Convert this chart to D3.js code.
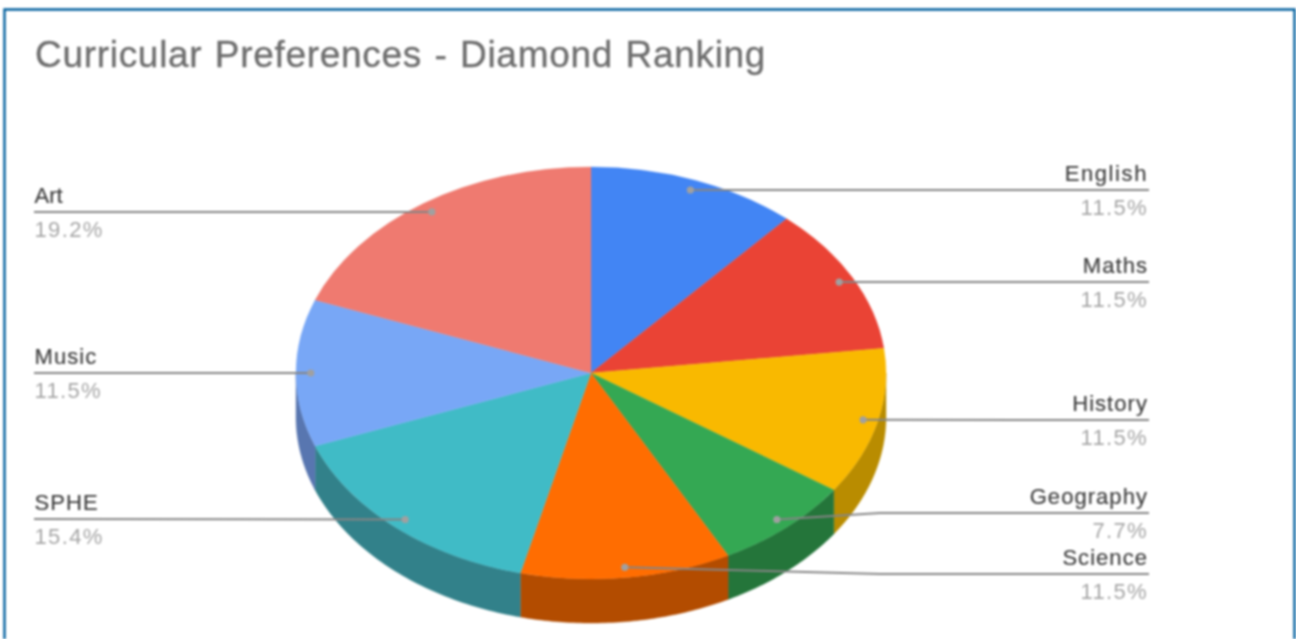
<!DOCTYPE html>
<html>
<head>
<meta charset="utf-8">
<script src="https://cdn.jsdelivr.net/npm/d3@7/dist/d3.min.js"></script>
<style>
html,body{margin:0;padding:0;background:#fff;overflow:hidden}
svg{display:block;filter:blur(0.8px)}
text{font-family:"Liberation Sans",Arial,sans-serif}
</style>
</head>
<body>
<div id="chart"></div>
<script>
const title = "Curricular Preferences - Diamond Ranking";
const categories = ["English","Maths","History","Geography","Science","SPHE","Music","Art"];
const values = [3,3,3,2,3,4,3,5];
const percentLabels = ["11.5%","11.5%","11.5%","7.7%","11.5%","15.4%","11.5%","19.2%"];
const topColors = ["#4285f4","#ea4335","#f9b900","#34a853","#ff6d01","#40bbc6","#78a7f6","#ef7a70"];
const sideColors = ["#2e5daa","#a32e25","#b98c00","#24753a","#b34c00","#32818a","#5876b0","#a7554e"];

const W = 1296, H = 639;
const cx = 591, cy = 373, rx = 295, ry = 206, depth = 44;
const anchorFrac = 0.95;
const labelY = [190,282,420,513,574,519,373,212];   // leader line heights
const rightX = 1149, leftX = 34, bendX = 880;

const svg = d3.select("#chart").append("svg").attr("width",W).attr("height",H);
svg.append("rect").attr("width",W).attr("height",H).attr("fill","#fff");
// frame (open at the bottom: runs off the picture)
svg.append("path").attr("d",d3.line()([[4.5,H+4],[4.5,9.5],[1294.5,9.5],[1294.5,H+4]]))
   .attr("fill","none").attr("stroke","#005f9e").attr("stroke-width",2.4);

svg.append("text").attr("x",35).attr("y",67).attr("font-size",37)
   .attr("fill","#6e6e6e").attr("stroke","#6e6e6e").attr("stroke-width",0.35)
   .style("letter-spacing","0.7px").style("word-spacing","1.5px").text(title);

const pie = d3.pie().sort(null).value(d=>d);
const arcs = pie(values);
const xs = d3.scaleLinear().domain([-1,1]).range([cx-rx,cx+rx]);
const ys = d3.scaleLinear().domain([-1,1]).range([cy-ry,cy+ry]);
const pt = (a,f=1,dz=0)=>[xs(f*Math.sin(a)), ys(-f*Math.cos(a))+dz];

// side wall: the part of each slice on the front half of the ellipse
const side = svg.append("g");
arcs.forEach((d,i)=>{
  const a0 = Math.max(d.startAngle,Math.PI/2), a1 = Math.min(d.endAngle,3*Math.PI/2);
  if(a1<=a0) return;
  const as = d3.range(0,61).map(k=>a0+(a1-a0)*k/60);
  const poly = as.map(a=>pt(a)).concat(as.slice().reverse().map(a=>pt(a,1,depth)));
  side.append("path").attr("d",d3.line()(poly)+"Z").attr("fill",sideColors[i])
      .attr("stroke",sideColors[i]).attr("stroke-width",0.4);
});

// top face
const arc = d3.arc().innerRadius(0).outerRadius(rx);
svg.append("g").attr("transform",`translate(${cx},${cy}) scale(1,${ry/rx})`)
  .selectAll("path").data(arcs).join("path")
  .attr("d",arc).attr("fill",(d,i)=>topColors[i])
  .attr("stroke",(d,i)=>topColors[i]).attr("stroke-width",0.4);

// leader lines and labels
const lab = svg.append("g");
arcs.forEach((d,i)=>{
  const mid = (d.startAngle+d.endAngle)/2;
  const p = pt(mid,anchorFrac);
  const right = Math.sin(mid)>0;
  const endX = right?rightX:leftX;
  const y = labelY[i];
  const pts = Math.abs(p[1]-y)>2 ? [p,[bendX,y],[endX,y]] : [p,[endX,y]];
  lab.append("path").attr("d",d3.line()(pts)).attr("fill","none")
     .attr("stroke","#858585").attr("stroke-width",2);
  lab.append("circle").attr("cx",p[0]).attr("cy",p[1]).attr("r",3.6).attr("fill","#a0a0a0");
  const tx = right?rightX-1:leftX+0.5;
  const anchor = right?"end":"start";
  const name = categories[i];
  lab.append("text").attr("x",tx).attr("y",y-9).attr("text-anchor",anchor)
     .attr("font-size",22).attr("fill","#3f3f3f").attr("stroke","#3f3f3f").attr("stroke-width",0.2)
     .style("letter-spacing",name==="Art"?"0px":name==="English"?"1.6px":"1.05px").text(name);
  lab.append("text").attr("x",tx).attr("y",y+25).attr("text-anchor",anchor)
     .attr("font-size",22).attr("fill","#a6a6a6")
     .style("letter-spacing","1.35px").text(percentLabels[i]);
});
</script>
</body>
</html>
